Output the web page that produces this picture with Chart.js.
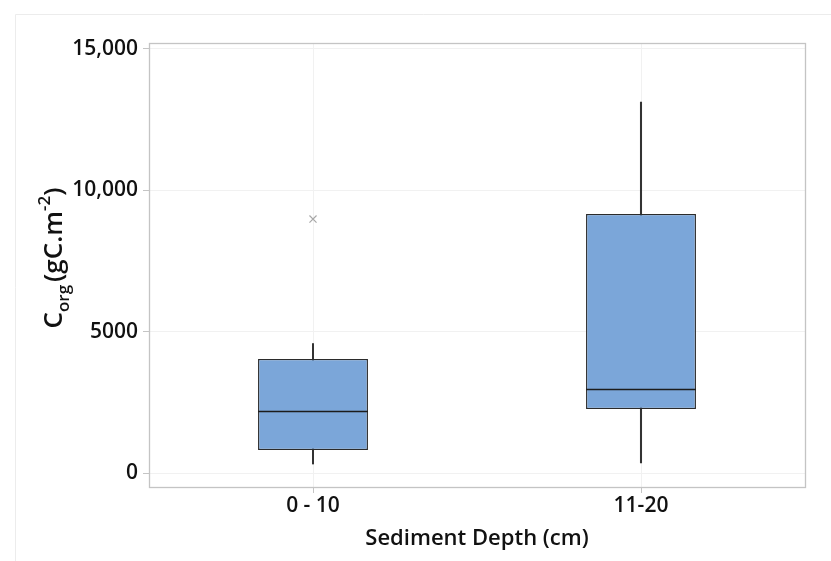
<!DOCTYPE html>
<html>
<head>
<meta charset="utf-8">
<script src="https://cdn.jsdelivr.net/npm/chart.js@4.4.1/dist/chart.umd.min.js"></script>
<style>
html,body{margin:0;padding:0;background:#fff;}
#wrap{width:831px;height:561px;position:relative;}
</style>
</head>
<body>
<div id="wrap"><canvas id="c" width="831" height="561"></canvas></div>
<script>
const categories = ['0 - 10', '11-20'];
const whiskerLow = [318, 354];
const q1 = [814, 2264];
const medians = [2193, 2971];
const q3 = [4033, 9162];
const whiskerHigh = [4580, 13124];
const outliers = [8985, null];
const yTicks = [0, 5000, 10000, 15000];
const yTickLabels = ['0', '5000', '10,000', '15,000'];
const xTitle = 'Sediment Depth (cm)';

const FONT = "'Open Sans', 'Noto Sans', sans-serif";
const TXT = '#111111';

const framePlugin = {
  id: 'frame',
  beforeDraw(chart) {
    const ctx = chart.ctx;
    ctx.save();
    ctx.fillStyle = '#fff';
    ctx.fillRect(0, 0, chart.width, chart.height);
    ctx.strokeStyle = '#ececec';
    ctx.lineWidth = 1;
    ctx.beginPath();
    ctx.moveTo(15.5, 561); ctx.lineTo(15.5, 14.5); ctx.lineTo(831, 14.5);
    ctx.stroke();
    ctx.restore();
  },
  beforeDatasetsDraw(chart) {
    const a = chart.chartArea, ctx = chart.ctx;
    ctx.save();
    ctx.strokeStyle = '#c4c4c4';
    ctx.lineWidth = 1.3;
    ctx.strokeRect(a.left + 0.5, a.top + 0.5, a.right - a.left, a.bottom - a.top);
    ctx.restore();
  },
  afterDatasetsDraw(chart) {
    const ctx = chart.ctx;
    const ys = chart.scales.y;
    const meta = chart.getDatasetMeta(1);
    ctx.save();
    ctx.strokeStyle = '#1c1c1c';
    ctx.lineWidth = 1.4;
    medians.forEach((m, i) => {
      const bar = meta.data[i];
      const half = bar.width / 2;
      const y = Math.round(ys.getPixelForValue(m)) + 0.5;
      ctx.beginPath();
      ctx.moveTo(bar.x - half, y);
      ctx.lineTo(bar.x + half, y);
      ctx.stroke();
    });
    ctx.restore();
  },
  afterDraw(chart) {
    const ctx = chart.ctx;
    ctx.save();
    ctx.fillStyle = TXT;
    ctx.translate(62, 258);
    ctx.rotate(-Math.PI / 2);
    const big = "600 26px " + FONT;
    const small = "600 17px " + FONT;
    const parts = [
      {t: 'C', f: big, dy: 0},
      {t: 'org', f: small, dy: 7},
      {t: '(gC.m', f: big, dy: 0},
      {t: '-2', f: small, dy: -12},
      {t: ')', f: big, dy: 0}
    ];
    let total = 0;
    parts.forEach(p => { ctx.font = p.f; p.w = ctx.measureText(p.t).width; total += p.w; });
    total += 3;
    let x = -total / 2;
    ctx.textBaseline = 'alphabetic';
    parts.forEach((p, i) => {
      ctx.font = p.f;
      ctx.fillText(p.t, x, p.dy);
      x += p.w;
      if (i === 1) x += 3;
    });
    ctx.restore();
  }
};

new Chart(document.getElementById('c'), {
  data: {
    labels: categories,
    datasets: [
      {
        type: 'bar',
        data: whiskerLow.map((v, i) => [v, whiskerHigh[i]]),
        backgroundColor: '#333333',
        borderWidth: 0,
        barThickness: 1.4,
        grouped: false,
        order: 3
      },
      {
        type: 'bar',
        data: q1.map((v, i) => [v, q3[i]]),
        backgroundColor: '#7BA6D9',
        borderColor: '#2b2b2b',
        borderWidth: 1.3,
        borderSkipped: false,
        barPercentage: 0.335,
        categoryPercentage: 1,
        grouped: false,
        order: 2
      },
      {
        type: 'line',
        data: outliers,
        showLine: false,
        pointStyle: 'crossRot',
        pointRadius: 5,
        pointBorderWidth: 1.2,
        borderColor: '#a8a8a8',
        backgroundColor: '#a8a8a8',
        order: 1
      }
    ]
  },
  options: {
    responsive: false,
    animation: false,
    events: [],
    layout: { padding: { top: 43, right: 26, left: 0, bottom: 0 } },
    plugins: { legend: { display: false }, tooltip: { enabled: false } },
    scales: {
      x: {
        type: 'category',
        offset: true,
        grid: { offset: false, color: '#f1f1f1', tickColor: '#c4c4c4', tickLength: 6, lineWidth: 1 },
        border: { display: false },
        ticks: { color: TXT, font: { family: FONT, size: 21, weight: '600' }, padding: 0 },
        title: { display: true, text: xTitle, color: TXT, font: { family: FONT, size: 22, weight: '600' }, padding: { top: 0, bottom: 9 } },
        afterFit(s) { s.height = 561 - 487; }
      },
      y: {
        min: -495,
        max: 15212,
        afterBuildTicks(s) { s.ticks = yTicks.map(v => ({ value: v })); },
        grid: { color: '#f1f1f1', tickColor: '#c4c4c4', tickLength: 6, lineWidth: 1 },
        border: { display: false },
        ticks: {
          color: TXT,
          font: { family: FONT, size: 21, weight: '600' },
          padding: 5,
          callback(v) { const i = yTicks.indexOf(v); return i >= 0 ? yTickLabels[i] : ''; }
        },
        afterFit(s) { s.width = 149; }
      }
    }
  },
  plugins: [framePlugin]
});
</script>
</body>
</html>
